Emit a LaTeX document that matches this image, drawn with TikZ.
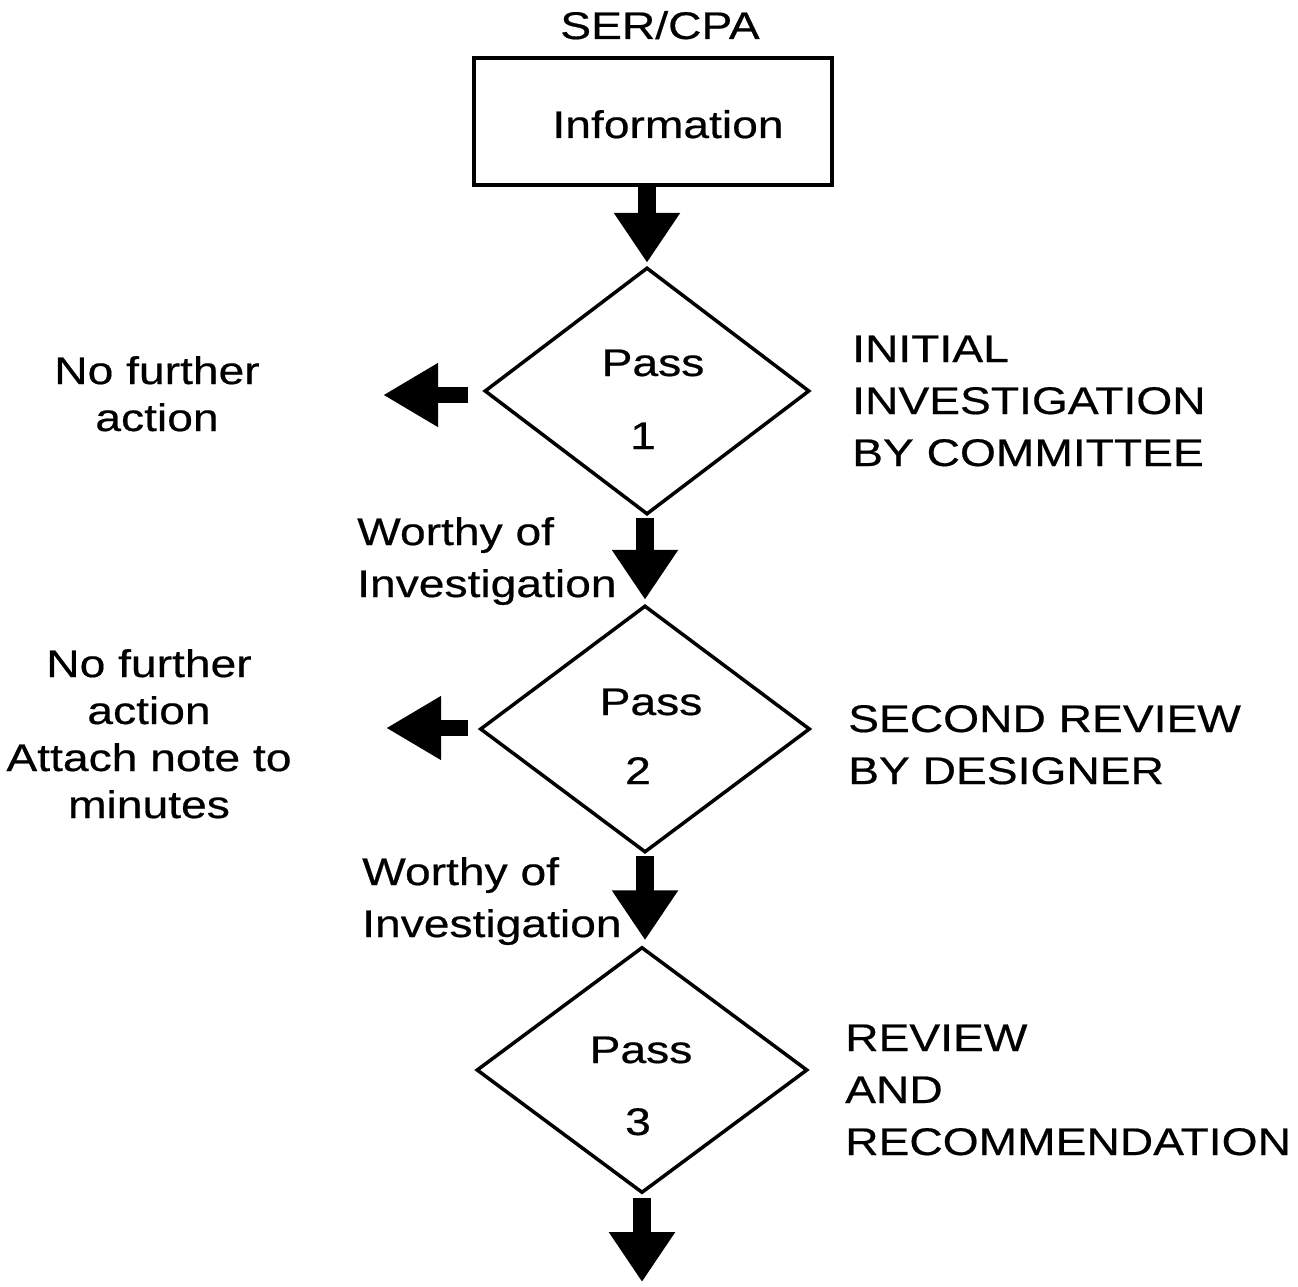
\documentclass[tikz,border=0pt]{standalone}
\usepackage{fontspec}
\setmainfont[FakeStretch=1.2,FakeBold=0.5]{Liberation Sans}
\usetikzlibrary{arrows.meta,shapes.geometric}
\begin{document}
\begin{tikzpicture}[x=1pt,y=-1pt,
  txt/.style={font=\fontsize{38.5pt}{52pt}\selectfont, inner sep=0pt},
  txtl/.style={font=\fontsize{38.5pt}{47pt}\selectfont, inner sep=0pt},
  boxst/.style={draw, line width=3.5pt, inner sep=0pt},
  dia/.style={diamond, draw, line width=3.5pt, inner sep=0pt},
  fatdown/.style={line width=18pt, -{Triangle[width=63pt,length=50pt]}},
  fatleft/.style={line width=16pt, -{Triangle[width=60pt,length=55pt]}}
]
\useasboundingbox (0,0) rectangle (1298,1287);

% box
\node[boxst, minimum width=358pt, minimum height=127pt] (info) at (653,121.5) {};
\node[txt, anchor=base] (ser) at (660,39) {SER/CPA};
\node[txt, anchor=base] (infotxt) at (668,138) {Information};

% diamonds
\node[dia, minimum width=325pt, minimum height=247pt] (d1) at (647,391) {};
\node[dia, minimum width=330pt, minimum height=247pt] (d2) at (645,729) {};
\node[dia, minimum width=331pt, minimum height=246pt] (d3) at (642,1070) {};

\node[txt, anchor=base] (p1) at (653,376) {Pass};
\node[txt, anchor=base] (n1) at (643,449) {1};
\node[txt, anchor=base] (p2) at (651,715) {Pass};
\node[txt, anchor=base] (n2) at (638,784) {2};
\node[txt, anchor=base] (p3) at (641,1063) {Pass};
\node[txt, anchor=base] (n3) at (638,1135) {3};

% side texts (base anchor = baseline of last line)
\node[txtl, align=center, anchor=base] (nfa1) at (157,431) {No further\\action};
\node[txtl, align=center, anchor=base] (nfa2) at (149,818) {No further\\action\\Attach note to\\minutes};
\node[txt, align=left, anchor=base west] (r1) at (852,466) {INITIAL\\INVESTIGATION\\BY COMMITTEE};
\node[txt, align=left, anchor=base west] (r2) at (848,784) {SECOND REVIEW\\BY DESIGNER};
\node[txt, align=left, anchor=base west] (r3) at (845,1155) {REVIEW\\AND\\RECOMMENDATION};
\node[txt, align=left, anchor=base west] (w1) at (357,597) {Worthy of\\Investigation};
\node[txt, align=left, anchor=base west] (w2) at (362,937) {Worthy of\\Investigation};

% connectors
\coordinate (l1) at (383,395);
\coordinate (l2) at (386,728);
\coordinate (e4) at (642,1282);
\draw[fatdown, shorten >=3pt] (d1.north |- info.south) -- (d1.north);
\draw[fatdown, shorten <=2pt, shorten >=4pt] (d2.north |- d1.south) -- (d2.north);
\draw[fatdown, shorten <=2pt, shorten >=5pt] (d2.south) -- (d2.south |- d3.north);
\draw[fatdown, shorten <=3pt] (d3.south) -- (e4);
\draw[fatleft, shorten <=15pt] ([yshift=-4pt]d1.west) -- (l1);
\draw[fatleft, shorten <=10pt] ([yshift=1pt]d2.west) -- (l2);
\end{tikzpicture}
\end{document}
